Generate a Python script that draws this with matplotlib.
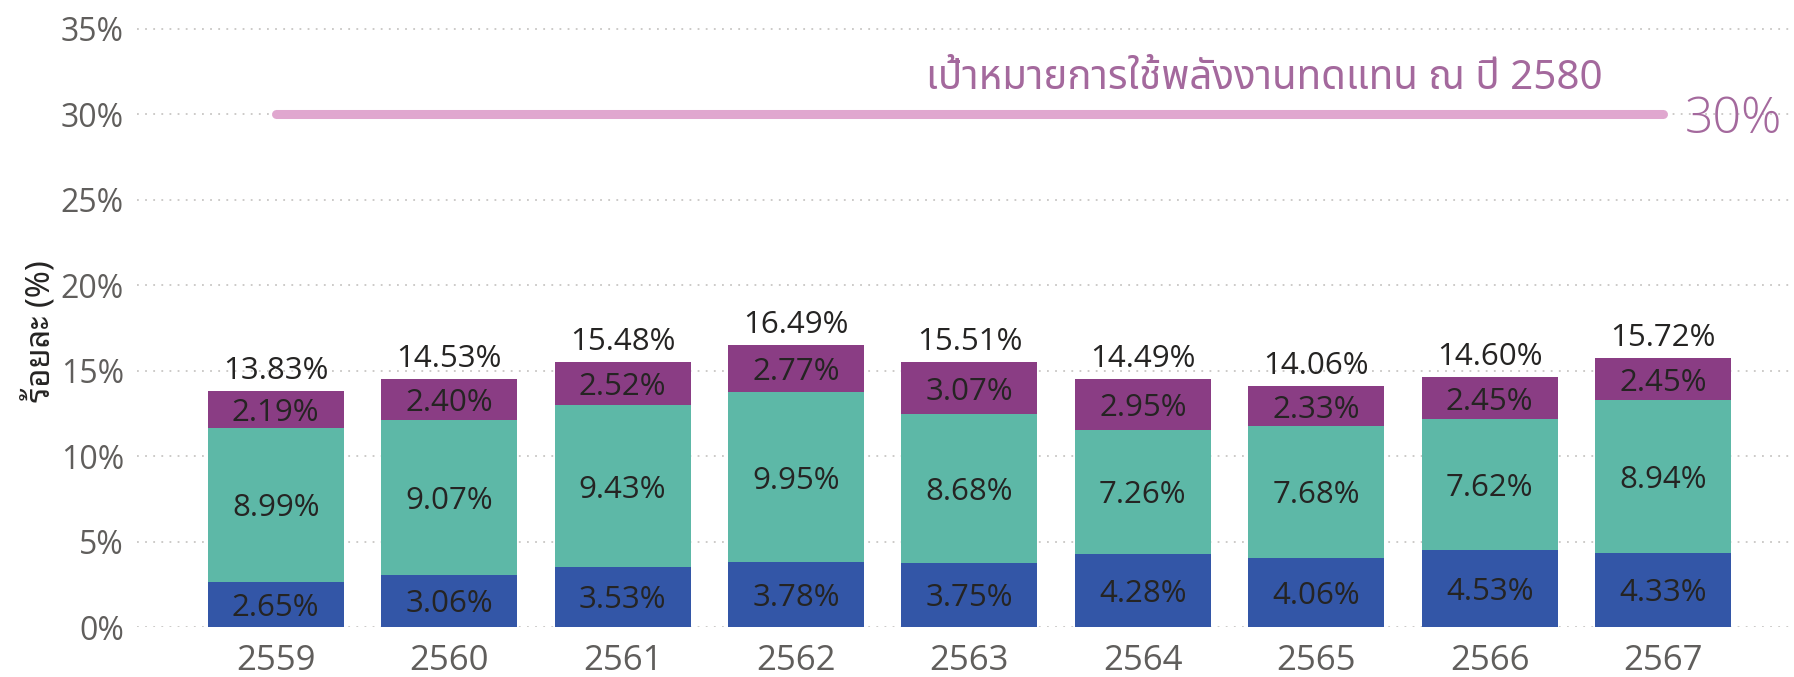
import matplotlib
matplotlib.use("Agg")
import matplotlib.pyplot as plt
import numpy as np

years = ["2559", "2560", "2561", "2562", "2563", "2564", "2565", "2566", "2567"]
blue_vals = [2.65, 3.06, 3.53, 3.78, 3.75, 4.28, 4.06, 4.53, 4.33]
teal_vals = [8.99, 9.07, 9.43, 9.95, 8.68, 7.26, 7.68, 7.62, 8.94]
purple_vals = [2.19, 2.40, 2.52, 2.77, 3.07, 2.95, 2.33, 2.45, 2.45]
totals = [13.83, 14.53, 15.48, 16.49, 15.51, 14.49, 14.06, 14.60, 15.72]
target = 30
target_label = "เป้าหมายการใช้พลังงานทดแทน ณ ปี 2580"
ylabel = "ร้อยละ (%)"
yticks = [0, 5, 10, 15, 20, 25, 30, 35]

C_BLUE = "#3356A7"
C_TEAL = "#5DB8A7"
C_PURPLE = "#8A3D84"
C_TARGET = "#E0A7CF"
C_TARGET_TXT = "#A4699D"
C_LABEL = "#252423"
C_TICK = "#605E5C"
C_GRID = "#C8C6C4"

plt.rcParams['font.family'] = ['Open Sans', 'Noto Sans Thai', 'DejaVu Sans']

fig = plt.figure(figsize=(17.94, 6.77), dpi=100)
ax = fig.add_axes([137/1794, 50/677, 1657/1794, 607/677])
ax.set_xlim(-0.8, 8.755)
ax.set_ylim(0, 35.5)

x = np.arange(len(years))
w = 0.784
b1 = ax.bar(x, blue_vals, w, color=C_BLUE, zorder=3)
b2 = ax.bar(x, teal_vals, w, bottom=blue_vals, color=C_TEAL, zorder=3)
bottom3 = np.array(blue_vals) + np.array(teal_vals)
b3 = ax.bar(x, purple_vals, w, bottom=bottom3, color=C_PURPLE, zorder=3)

for bars, vals, bots in ((b1, blue_vals, np.zeros(len(x))),
                         (b2, teal_vals, np.array(blue_vals)),
                         (b3, purple_vals, bottom3)):
    for xi, v, b in zip(x, vals, bots):
        ax.text(xi, b + v / 2, f"{v:.2f}%", ha="center", va="center_baseline",
                fontsize=22.5, color=C_LABEL, zorder=4)

tops = np.array(blue_vals) + np.array(teal_vals) + np.array(purple_vals)
for xi, t, tv in zip(x, tops, totals):
    ax.annotate(f"{tv:.2f}%", (xi, t), xytext=(0, 8.6), textcoords="offset points",
                ha="center", va="baseline", fontsize=22.5, color=C_LABEL, zorder=4)

# target line
ax.plot([x[0], x[-1]], [target, target], color=C_TARGET, lw=6.5,
        solid_capstyle="round", zorder=3)
ax.text(8.126, target, f"{target}%", ha="left", va="center_baseline",
        fontsize=36, fontweight=300, color=C_TARGET_TXT, zorder=4)
ax.text(5.70, 31.46, target_label, ha="center", va="baseline", fontsize=29,
        color=C_TARGET_TXT, family=['Noto Sans Thai', 'Open Sans'],
        fontstretch="condensed", zorder=4)

ax.set_yticks(yticks)
ax.set_yticklabels([f"{t}%" for t in yticks])
ax.set_xticks(x)
ax.set_xticklabels(years)
ax.tick_params(axis="y", length=0, pad=9.4, labelsize=23, labelcolor=C_TICK)
ax.tick_params(axis="x", length=0, pad=12, labelsize=25, labelcolor=C_TICK)
ax.grid(axis="y", color=C_GRID, linestyle=(0, (1, 3.5)), linewidth=1.3, zorder=0)
ax.grid(axis="x", visible=False)
for s in ax.spines.values():
    s.set_visible(False)
ax.set_axisbelow(True)

fig.text(41/1794, (677-331)/677, ylabel, rotation=90, ha="center", va="center",
         fontsize=23.5, fontweight="bold", color=C_LABEL,
         family=['Noto Sans Thai Looped', 'Noto Sans Thai', 'Open Sans'])

fig.savefig("out.png", dpi=100)
